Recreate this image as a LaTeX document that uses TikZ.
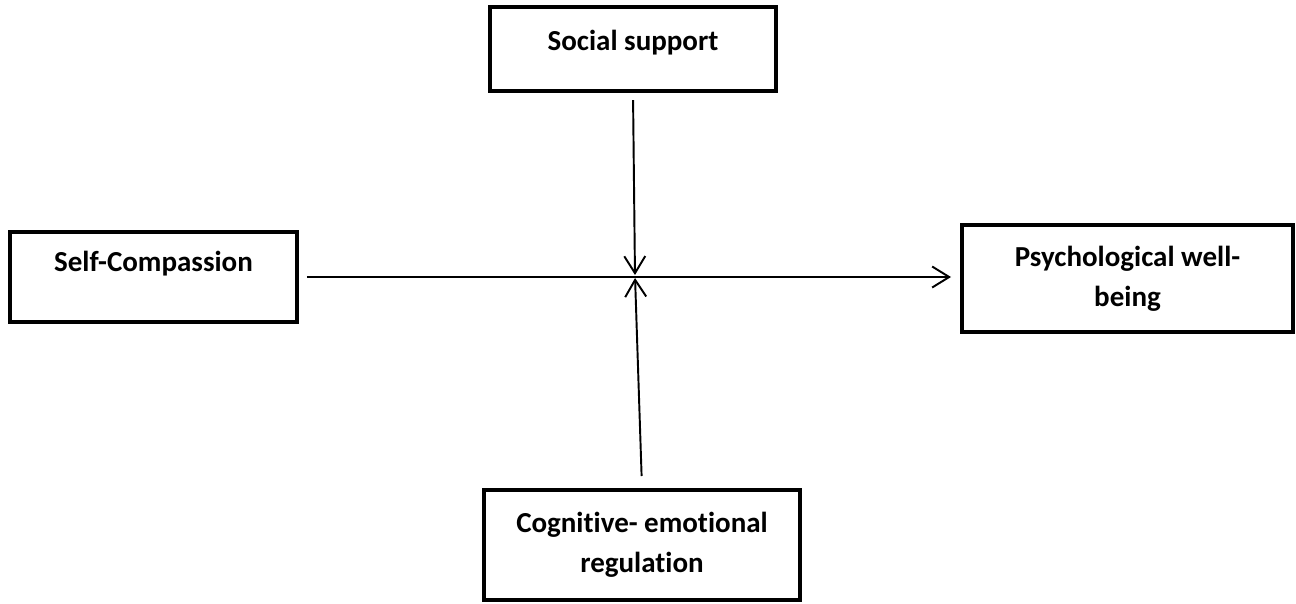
\documentclass[tikz,border=0pt]{standalone}
\usepackage{fontspec}
\setmainfont{Carlito}[Ligatures={NoCommon}]
\usepackage{tikz}
\usetikzlibrary{arrows.meta,positioning,calc}

\begin{document}
\begin{tikzpicture}[
  x=0.02cm, y=-0.02cm,
  box/.style={draw=black, line width=2.3pt, inner sep=0pt, align=center,
    font=\bfseries\fontsize{16.5}{23}\selectfont},
  arr/.style={-{Straight Barb[length=3.4mm, width=4.2mm, line width=1.1pt]}, line width=1.1pt, black},
]
\useasboundingbox (0,0) rectangle (1296,603);
\node[box, minimum width=5.72cm, minimum height=1.68cm, text depth=0.33cm] (soc) at (633,49) {Social support};
\node[box, minimum width=5.74cm, minimum height=1.80cm, text depth=0.63cm] (self) at (153.5,277) {Self-Compassion};
\node[box, minimum width=6.62cm, minimum height=2.14cm] (psy) at (1127.5,278.5) {Psychological well-\\being};
\node[box, minimum width=6.32cm, minimum height=2.20cm] (cog) at (642,545) {Cognitive- emotional\\regulation};
\coordinate (hub) at (635,276);
\draw[arr, shorten <=1.6mm, shorten >=1.8mm] (self.east) -- (self.east -| psy.west);
\draw[arr, shorten <=1.4mm, shorten >=0.2mm] (soc.south) -- (hub);
\draw[arr, shorten <=2.4mm, shorten >=0.4mm] (cog.north) -- (hub);
\end{tikzpicture}
\end{document}
